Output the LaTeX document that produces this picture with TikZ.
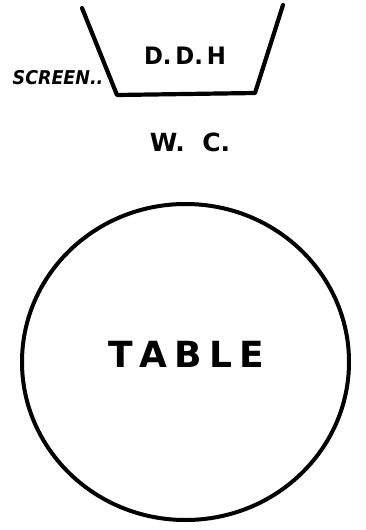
\documentclass[tikz,border=0pt]{standalone}
\usepackage{fontspec}
\setmainfont{DejaVu Sans}
\usetikzlibrary{shapes.geometric}
\begin{document}
\begin{tikzpicture}[x=1pt,y=-1pt,
  ink/.style={line width=4.2pt,line cap=round,line join=round},
  lbl/.style={inner sep=0pt}]
\useasboundingbox (0,0) rectangle (365,530);
\coordinate (tl) at (82,8);
\coordinate (bl) at (117,95);
\coordinate (br) at (255,93);
\coordinate (tr) at (283,5);
\draw[ink] (tl) -- (bl) -- (br) -- (tr);
\node[lbl,font=\bfseries\fontsize{24}{24}\selectfont,xscale=0.95] (ddh) at (185,56) {D.\,D.\,H};
\node[lbl,font=\bfseries\itshape\fontsize{19}{19}\selectfont,xscale=0.92] (screen) at (58,78) {SCREEN..};
\node[lbl,font=\bfseries\fontsize{25}{25}\selectfont] (wc) at (190,142) {W.\ \ C.};
\node[draw,ink,line width=4pt,ellipse,minimum width=327pt,minimum height=316pt,inner sep=0pt] (table) at (185.5,362) {};
\node[lbl,font=\bfseries\fontsize{36}{36}\selectfont] (tlabel) at (186,354) {T\hspace{7pt}A\hspace{7pt}B\hspace{7pt}L\hspace{7pt}E};
\end{tikzpicture}
\end{document}
